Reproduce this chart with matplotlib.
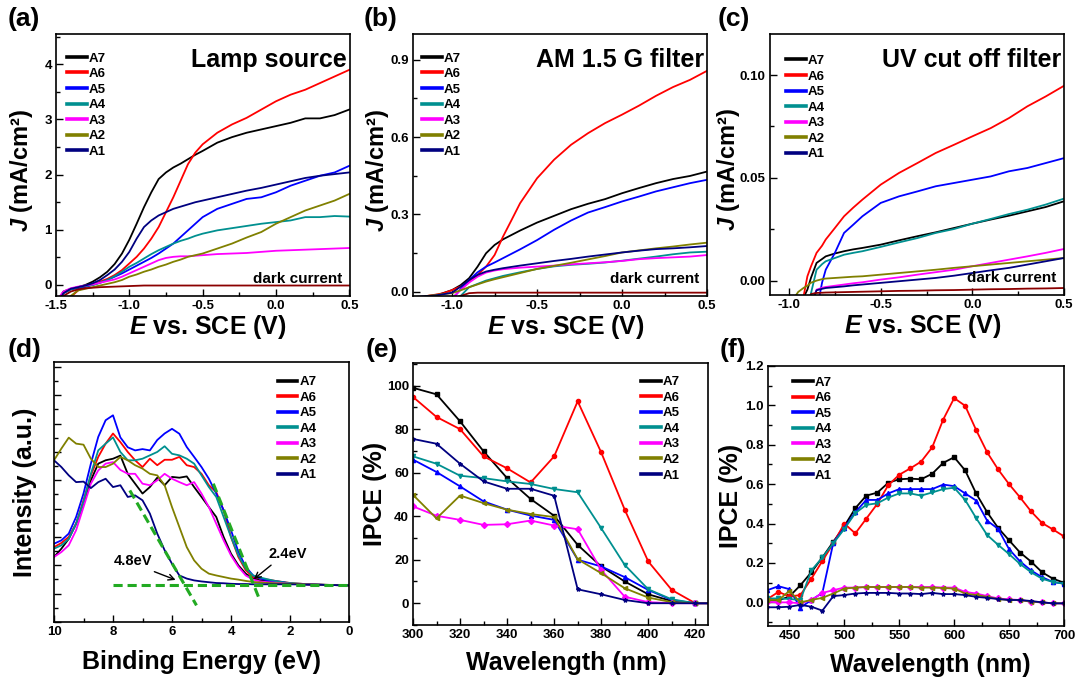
import matplotlib
matplotlib.use('Agg')
import matplotlib.pyplot as plt
from matplotlib.ticker import MultipleLocator, NullFormatter, FormatStrFormatter
from matplotlib.lines import Line2D

plt.rcParams['font.family'] = ['Liberation Sans', 'DejaVu Sans']
plt.rcParams['font.weight'] = 'bold'
plt.rcParams['axes.labelweight'] = 'bold'
plt.rcParams['axes.unicode_minus'] = False
plt.rcParams['mathtext.fontset'] = 'custom'
plt.rcParams['mathtext.it'] = 'Liberation Sans:italic:bold'
plt.rcParams['mathtext.rm'] = 'Liberation Sans:bold'

names = ['A7', 'A6', 'A5', 'A4', 'A3', 'A2', 'A1']
colors = ['#000000', '#ff0000', '#0000ff', '#009090', '#ff00ff', '#808000', '#000080']
markers = ['s', 'o', '^', 'v', 'D', '<', '*']
dark_color = '#8b0000'

# ---- (a) lamp source, J (mA/cm2) vs E (V)
va = [-1.5, -1.45, -1.4, -1.35, -1.3, -1.25, -1.2, -1.15, -1.1, -1.05, -1.0, -0.95, -0.9, -0.85, -0.8,
      -0.75, -0.7, -0.65, -0.6, -0.55, -0.5, -0.4, -0.3, -0.2, -0.1, 0.0, 0.1, 0.2, 0.3, 0.4, 0.5]
ja_A7 = [-0.35, -0.12, -0.07, -0.04, 0.0, 0.06, 0.14, 0.24, 0.38, 0.57, 0.82, 1.11, 1.41, 1.68, 1.92,
         2.04, 2.13, 2.2, 2.28, 2.36, 2.43, 2.58, 2.68, 2.76, 2.82, 2.88, 2.94, 3.02, 3.02, 3.08, 3.18]
ja_A6 = [-0.6, -0.45, -0.22, -0.1, -0.04, 0.01, 0.06, 0.11, 0.18, 0.27, 0.39, 0.51, 0.66, 0.84, 1.05,
         1.32, 1.59, 1.89, 2.19, 2.40, 2.55, 2.76, 2.91, 3.03, 3.18, 3.33, 3.45, 3.54, 3.66, 3.78, 3.90]
ja_A5 = [-0.4, -0.15, -0.08, -0.06, -0.03, 0.0, 0.04, 0.09, 0.15, 0.21, 0.28, 0.35, 0.42, 0.49, 0.57,
         0.66, 0.75, 0.87, 0.99, 1.11, 1.23, 1.38, 1.47, 1.56, 1.59, 1.68, 1.80, 1.89, 1.98, 2.04, 2.16]
ja_A4 = [-0.4, -0.15, -0.08, -0.04, -0.02, 0.0, 0.04, 0.09, 0.16, 0.24, 0.33, 0.40, 0.48, 0.56, 0.63,
         0.69, 0.75, 0.80, 0.84, 0.89, 0.93, 0.99, 1.03, 1.07, 1.11, 1.14, 1.17, 1.23, 1.23, 1.25, 1.24]
ja_A3 = [-0.3, -0.12, -0.06, -0.03, -0.01, 0.01, 0.04, 0.07, 0.10, 0.15, 0.21, 0.27, 0.33, 0.39, 0.45,
         0.49, 0.51, 0.52, 0.52, 0.53, 0.54, 0.56, 0.57, 0.58, 0.60, 0.62, 0.63, 0.64, 0.65, 0.66, 0.67]
ja_A2 = [-0.5, -0.35, -0.2, -0.1, -0.07, -0.04, -0.01, 0.02, 0.05, 0.09, 0.15, 0.19, 0.24, 0.28, 0.33,
         0.37, 0.42, 0.46, 0.51, 0.54, 0.57, 0.66, 0.75, 0.86, 0.96, 1.11, 1.23, 1.35, 1.44, 1.53, 1.65]
ja_A1 = [-0.4, -0.15, -0.07, -0.04, -0.01, 0.03, 0.09, 0.18, 0.28, 0.42, 0.60, 0.84, 1.05, 1.17, 1.26,
         1.32, 1.38, 1.42, 1.46, 1.50, 1.53, 1.59, 1.65, 1.71, 1.76, 1.82, 1.88, 1.94, 1.98, 2.01, 2.04]
ja_dark = [-0.35, -0.2, -0.12, -0.08, -0.06, -0.05, -0.04, -0.035, -0.03, -0.025, -0.02, -0.015, -0.01,
           -0.01, -0.01, -0.01, -0.01, -0.01, -0.01, -0.01, -0.01, -0.01, -0.01, -0.01, -0.01, -0.01,
           -0.01, -0.01, -0.01, -0.01, -0.01]

# ---- (b) AM 1.5 G filter
vb = [-1.2, -1.15, -1.1, -1.05, -1.0, -0.95, -0.9, -0.85, -0.8, -0.75, -0.7, -0.65, -0.6, -0.5,
      -0.4, -0.3, -0.2, -0.1, 0.0, 0.1, 0.2, 0.3, 0.4, 0.5]
jb_A7 = [-0.03, -0.02, -0.017, -0.005, 0.006, 0.025, 0.052, 0.097, 0.149, 0.181, 0.203, 0.22, 0.237,
         0.268, 0.294, 0.32, 0.341, 0.359, 0.382, 0.402, 0.421, 0.437, 0.449, 0.466]
jb_A6 = [-0.03, -0.017, -0.012, -0.006, 0.006, 0.02, 0.039, 0.065, 0.097, 0.142, 0.214, 0.278, 0.343,
         0.44, 0.512, 0.57, 0.615, 0.654, 0.687, 0.722, 0.76, 0.794, 0.822, 0.857]
jb_A5 = [-0.05, -0.05, -0.05, -0.04, -0.03, 0.009, 0.045, 0.075, 0.097, 0.113, 0.13, 0.147, 0.164,
         0.2, 0.24, 0.276, 0.307, 0.328, 0.35, 0.369, 0.389, 0.405, 0.421, 0.434]
jb_A4 = [-0.03, -0.03, -0.03, -0.03, -0.03, -0.017, 0.017, 0.03, 0.043, 0.052, 0.061, 0.068, 0.075,
         0.088, 0.098, 0.104, 0.108, 0.113, 0.12, 0.128, 0.136, 0.145, 0.152, 0.155]
jb_A3 = [-0.03, -0.03, -0.03, -0.03, -0.025, 0.006, 0.035, 0.058, 0.074, 0.082, 0.087, 0.09, 0.093,
         0.097, 0.101, 0.106, 0.11, 0.114, 0.119, 0.126, 0.13, 0.133, 0.136, 0.142]
jb_A2 = [-0.03, -0.017, -0.013, -0.009, -0.006, 0.005, 0.017, 0.028, 0.039, 0.048, 0.056, 0.064, 0.072,
         0.088, 0.1, 0.112, 0.125, 0.138, 0.152, 0.16, 0.168, 0.175, 0.183, 0.19]
jb_A1 = [-0.02, -0.017, -0.015, -0.01, -0.004, 0.019, 0.045, 0.065, 0.078, 0.085, 0.091, 0.096, 0.101,
         0.11, 0.119, 0.127, 0.136, 0.144, 0.152, 0.159, 0.165, 0.168, 0.172, 0.177]
jb_dark = [-0.03, -0.03, -0.03, -0.03, -0.03, -0.017, -0.006, -0.004, -0.004, -0.004, -0.004, -0.004,
           -0.004, -0.004, -0.004, -0.004, -0.004, -0.004, -0.004, -0.004, -0.004, -0.004, -0.004, -0.004]

# ---- (c) UV cut off filter
vc = [-1.0, -0.95, -0.92, -0.9, -0.88, -0.85, -0.82, -0.8, -0.75, -0.7, -0.65, -0.6, -0.5, -0.4,
      -0.3, -0.2, -0.1, 0.0, 0.1, 0.2, 0.3, 0.4, 0.5]
jc_A7 = [-0.03, -0.02, -0.008, -0.0044, 0.0015, 0.0086, 0.0105, 0.0118, 0.0132, 0.0143, 0.0152, 0.0159,
         0.0175, 0.0196, 0.0216, 0.0235, 0.0256, 0.0277, 0.0297, 0.0316, 0.0337, 0.0358, 0.0386]
jc_A6 = [-0.03, -0.02, -0.0073, 0.0021, 0.007, 0.0135, 0.017, 0.02, 0.0256, 0.0313, 0.0355, 0.0394,
         0.0467, 0.0524, 0.0572, 0.0621, 0.0661, 0.0702, 0.0742, 0.0791, 0.0848, 0.0896, 0.0948]
jc_A5 = [-0.03, -0.03, -0.03, -0.03, -0.025, -0.015, -0.001, 0.0053, 0.0135, 0.0232, 0.0272, 0.0313,
         0.0378, 0.041, 0.0434, 0.0459, 0.0475, 0.0491, 0.0507, 0.0532, 0.0548, 0.0572, 0.0596]
jc_A4 = [-0.03, -0.03, -0.025, -0.015, -0.006, 0.0053, 0.008, 0.0094, 0.011, 0.0126, 0.0135, 0.0143,
         0.0164, 0.0186, 0.0207, 0.0232, 0.0251, 0.0277, 0.03, 0.0324, 0.0345, 0.037, 0.0399]
jc_A3 = [-0.03, -0.03, -0.03, -0.03, -0.012, -0.0044, -0.0035, -0.0031, -0.0025, -0.0019, -0.0013,
         -0.0008, 0.0005, 0.0016, 0.0029, 0.0041, 0.0053, 0.007, 0.0086, 0.0102, 0.0118, 0.0135, 0.0154]
jc_A2 = [-0.012, -0.0055, -0.0035, -0.0025, -0.001, 0.0, 0.0007, 0.001, 0.0013, 0.0016, 0.0019, 0.0021,
         0.0029, 0.0037, 0.0045, 0.0053, 0.0062, 0.007, 0.0078, 0.0086, 0.0094, 0.0102, 0.011]
jc_A1 = [-0.03, -0.03, -0.03, -0.03, -0.012, -0.0047, -0.004, -0.0036, -0.0032, -0.0028, -0.0023,
         -0.0019, -0.0011, -0.0003, 0.0005, 0.0013, 0.0024, 0.0037, 0.005, 0.0062, 0.0078, 0.0094, 0.011]
jc_dark = [-0.02, -0.02, -0.02, -0.012, -0.0065, -0.006, -0.0059, -0.0058, -0.0057, -0.0056, -0.0055,
           -0.0054, -0.0052, -0.005, -0.0049, -0.0047, -0.0046, -0.0044, -0.0042, -0.0041, -0.0039,
           -0.0038, -0.0036]

# ---- (d) valence band spectra, intensity (a.u.)
ed = [10, 9.75, 9.5, 9.25, 9.0, 8.75, 8.5, 8.25, 8.0, 7.75, 7.5, 7.25, 7.0, 6.75, 6.5, 6.25, 6.0, 5.75,
      5.5, 5.25, 5.0, 4.75, 4.5, 4.25, 4.0, 3.75, 3.5, 3.25, 3.0, 2.75, 2.5, 2.25, 2.0, 1.5, 1.0, 0.5, 0.0]
id_A7 = [25.0, 28.2, 32.0, 37.8, 45.5, 54.5, 60.9, 62.2, 62.8, 64.0, 57.0, 53.2, 49.4, 51.9, 55.5, 52.6,
         55.8, 55.5, 56.0, 51.9, 48.1, 44.2, 40.4, 32.7, 26.3, 21.8, 18.6, 16.7, 16.0, 15.7, 15.4, 15.0,
         14.7, 14.5, 14.3, 14.2, 14.1]
id_A6 = [28.8, 30.4, 32.7, 37.8, 46.8, 56.4, 63.5, 68.6, 72.5, 69.2, 65.4, 62.2, 59.6, 62.8, 60.3, 62.4,
         62.4, 63.5, 60.3, 59.6, 57.0, 52.6, 50.0, 42.9, 32.7, 25.0, 19.9, 17.3, 16.7, 16.3, 15.8, 15.4,
         15.0, 14.6, 14.4, 14.2, 14.1]
id_A5 = [30.1, 31.4, 34.0, 40.4, 49.4, 60.9, 71.2, 77.6, 79.5, 71.0, 67.2, 66.0, 66.5, 66.0, 70.0, 72.5,
         74.3, 72.4, 67.3, 63.5, 59.6, 55.1, 49.4, 43.0, 35.3, 27.0, 21.2, 17.9, 16.7, 16.0, 15.6, 15.4,
         14.7, 14.5, 14.3, 14.2, 14.1]
id_A4 = [28.2, 29.5, 32.0, 37.8, 46.2, 57.0, 66.0, 68.6, 71.0, 65.4, 62.2, 62.2, 62.8, 64.1, 65.4, 67.6,
         64.7, 64.1, 62.8, 60.9, 56.4, 51.9, 48.1, 40.4, 32.7, 25.6, 20.5, 17.9, 17.1, 16.4, 15.8, 15.3,
         15.0, 14.6, 14.4, 14.2, 14.1]
id_A3 = [25.0, 26.9, 29.5, 35.3, 44.2, 53.2, 58.3, 60.9, 61.5, 58.5, 57.0, 57.0, 53.2, 52.6, 54.5, 57.0,
         55.1, 53.8, 52.6, 53.8, 49.4, 44.2, 37.8, 31.4, 25.6, 21.2, 17.9, 16.3, 15.6, 15.3, 15.1, 14.9,
         14.7, 14.5, 14.3, 14.2, 14.1]
id_A2 = [62.2, 66.7, 70.9, 68.6, 68.2, 62.8, 59.6, 59.6, 60.9, 63.5, 62.2, 60.3, 59.0, 57.0, 56.4, 52.6,
         44.2, 36.5, 28.8, 23.7, 20.5, 18.6, 17.9, 17.3, 16.7, 16.3, 15.8, 15.4, 15.2, 15.0, 14.9, 14.8,
         14.7, 14.5, 14.3, 14.2, 14.1]
id_A1 = [62.2, 59.6, 56.4, 53.8, 54.0, 51.5, 53.8, 55.1, 51.9, 52.6, 48.1, 48.7, 46.8, 41.7, 34.0, 27.6,
         22.4, 17.9, 16.7, 16.0, 15.6, 15.3, 15.0, 14.9, 14.7, 14.6, 14.6, 14.5, 14.5, 14.5, 14.5, 14.5,
         14.5, 14.4, 14.3, 14.2, 14.1]
fit_base_e = [8.0, 0.0]
fit_base_i = [14.1, 14.1]
fit_a1_e = [7.43, 5.17]
fit_a1_i = [50.6, 6.4]
fit_a6_e = [4.60, 3.02]
fit_a6_i = [53.2, 8.3]

# ---- (e) IPCE 300-420 nm
we = [300, 310, 320, 330, 340, 350, 360, 370, 380, 390, 400, 410, 420, 430]
pe_A7 = [99.0, 96.0, 83.6, 69.8, 57.5, 47.9, 40.2, 26.8, 16.9, 10.0, 4.1, 1.0, 0.0, 0.0]
pe_A6 = [94.8, 85.6, 80.0, 67.5, 62.0, 55.5, 67.5, 92.8, 69.3, 43.0, 19.2, 6.1, 0.0, 0.0]
pe_A5 = [66.0, 60.3, 53.7, 46.8, 43.0, 40.3, 38.3, 20.0, 16.9, 12.0, 6.1, 1.5, 0.0, 0.0]
pe_A4 = [67.5, 64.1, 58.6, 57.5, 56.0, 54.8, 52.5, 51.0, 34.5, 17.6, 6.4, 1.8, 0.0, 0.0]
pe_A3 = [44.5, 40.2, 38.3, 36.0, 36.3, 38.0, 35.7, 34.0, 15.3, 3.0, 0.5, 0.0, 0.0, 0.0]
pe_A2 = [49.8, 39.0, 49.5, 46.0, 43.0, 41.0, 39.6, 20.2, 13.8, 6.9, 2.6, 0.5, 0.0, 0.0]
pe_A1 = [75.5, 73.3, 64.1, 56.0, 52.6, 52.6, 49.4, 6.4, 4.1, 1.5, 0.0, 0.0, 0.0, 0.0]

# ---- (f) IPCE 430-700 nm
wf = [430, 440, 450, 460, 470, 480, 490, 500, 510, 520, 530, 540, 550, 560, 570, 580, 590, 600,
      610, 620, 630, 640, 650, 660, 670, 680, 690, 700]
pf_A7 = [0.01, 0.01, 0.03, 0.087, 0.153, 0.228, 0.308, 0.387, 0.478, 0.542, 0.557, 0.607, 0.625, 0.628,
         0.625, 0.653, 0.708, 0.737, 0.67, 0.553, 0.458, 0.378, 0.315, 0.253, 0.207, 0.153, 0.12, 0.10]
pf_A6 = [0.017, 0.053, 0.03, 0.037, 0.12, 0.21, 0.30, 0.40, 0.35, 0.425, 0.50, 0.595, 0.648, 0.68,
         0.715, 0.787, 0.928, 1.037, 0.998, 0.875, 0.762, 0.675, 0.60, 0.533, 0.462, 0.403, 0.37, 0.335]
pf_A5 = [0.062, 0.082, 0.067, -0.027, 0.012, 0.048, 0.303, 0.378, 0.458, 0.52, 0.52, 0.553, 0.575, 0.575,
         0.575, 0.575, 0.598, 0.59, 0.553, 0.517, 0.415, 0.373, 0.27, 0.208, 0.162, 0.128, 0.103, 0.095]
pf_A4 = [0.02, 0.02, 0.017, 0.012, 0.162, 0.228, 0.30, 0.373, 0.453, 0.495, 0.503, 0.532, 0.553, 0.553,
         0.542, 0.558, 0.575, 0.582, 0.52, 0.428, 0.342, 0.292, 0.245, 0.195, 0.153, 0.12, 0.103, 0.095]
pf_A3 = [0.003, 0.0, 0.0, -0.005, 0.012, 0.048, 0.062, 0.075, 0.075, 0.078, 0.078, 0.078, 0.078, 0.078,
         0.078, 0.078, 0.075, 0.075, 0.053, 0.045, 0.032, 0.02, 0.015, 0.012, 0.003, 0.0, -0.005, -0.005]
pf_A2 = [0.012, 0.012, 0.058, 0.0, 0.012, 0.023, 0.045, 0.07, 0.075, 0.078, 0.078, 0.078, 0.078, 0.078,
         0.075, 0.075, 0.073, 0.07, 0.045, 0.037, 0.028, 0.017, 0.012, 0.012, 0.003, 0.0, -0.005, -0.005]
pf_A1 = [-0.025, -0.025, -0.022, -0.013, -0.022, -0.042, 0.032, 0.037, 0.045, 0.048, 0.048, 0.048, 0.045,
         0.045, 0.042, 0.048, 0.042, 0.042, 0.037, 0.028, 0.023, 0.017, 0.012, 0.012, 0.007, 0.0,
         -0.005, -0.005]

W, H = 1076, 682
fig = plt.figure(figsize=(W / 100, H / 100), dpi=100)


def add_ax(l, t, r, b):
    return fig.add_axes([l / W, 1 - b / H, (r - l) / W, (b - t) / H])


def style(ax, xmaj, ymaj, fmt_y=None):
    ax.xaxis.set_major_locator(MultipleLocator(xmaj))
    ax.xaxis.set_minor_locator(MultipleLocator(xmaj / 2))
    ax.yaxis.set_major_locator(MultipleLocator(ymaj))
    ax.yaxis.set_minor_locator(MultipleLocator(ymaj / 2))
    ax.tick_params(which='both', direction='in', labelsize=9.5, width=1, pad=3)
    ax.tick_params(which='major', length=5)
    ax.tick_params(which='minor', length=3)
    if fmt_y:
        ax.yaxis.set_major_formatter(FormatStrFormatter(fmt_y))
    for s in ax.spines.values():
        s.set_linewidth(1.2)
    for lab in ax.get_xticklabels() + ax.get_yticklabels():
        lab.set_fontweight('bold')


def labels(ax, xl, yl, xpos, ypos, ysize=18):
    ax.set_xlabel(xl, fontsize=18)
    ax.set_ylabel(yl, fontsize=ysize)
    ax.xaxis.set_label_coords(*xpos)
    ax.yaxis.set_label_coords(*ypos)
    ax.xaxis.label.set_verticalalignment('center')
    ax.yaxis.label.set_verticalalignment('center')


def legend(ax, loc, anchor):
    handles = [Line2D([], [], color=c, lw=2.6) for c in colors]
    ax.legend(handles, names, loc=loc, bbox_to_anchor=anchor, frameon=False,
              prop={'weight': 'bold', 'size': 9.5}, handlelength=1.5, handletextpad=0.15,
              labelspacing=0.25, borderpad=0, borderaxespad=0)


def jv_panel(ax, v, series, dark, title):
    for j, c in zip(series, colors):
        ax.plot(v, j, color=c, lw=1.3)
    ax.plot(v, dark, color=dark_color, lw=1.3)
    ax.text(0.99, 0.9, title, transform=ax.transAxes, ha='right', va='center', fontsize=18)
    ax.text(0.975, 0.065, 'dark current', transform=ax.transAxes, ha='right', va='center', fontsize=11)


jv_x = r'$E$ vs. SCE (V)'
jv_y = r'$J$ (mA/cm²)'

# (a)
ax = add_ax(56, 34, 350, 296)
jv_panel(ax, va, [ja_A7, ja_A6, ja_A5, ja_A4, ja_A3, ja_A2, ja_A1], ja_dark, 'Lamp source')
ax.set_xlim(-1.5, 0.505)
ax.set_ylim(-0.2, 4.55)
style(ax, 0.5, 1)
ax.xaxis.set_major_formatter(FormatStrFormatter('%.1f'))
labels(ax, jv_x, jv_y, (0.517, -0.118), (-0.118, 0.48), 17)
legend(ax, 'upper left', (0.037, 0.93))

# (b)
ax = add_ax(413, 34, 707, 296)
jv_panel(ax, vb, [jb_A7, jb_A6, jb_A5, jb_A4, jb_A3, jb_A2, jb_A1], jb_dark, 'AM 1.5 G filter')
ax.set_xlim(-1.23, 0.5)
ax.set_ylim(-0.017, 1.0)
style(ax, 0.5, 0.3, '%.1f')
ax.xaxis.set_major_formatter(FormatStrFormatter('%.1f'))
labels(ax, jv_x, jv_y, (0.52, -0.118), (-0.122, 0.48), 17)
legend(ax, 'upper left', (0.03, 0.93))

# (c)
ax = add_ax(770, 34, 1064, 295)
jv_panel(ax, vc, [jc_A7, jc_A6, jc_A5, jc_A4, jc_A3, jc_A2, jc_A1], jc_dark, 'UV cut off filter')
ax.set_xlim(-1.104, 0.5)
ax.set_ylim(-0.007, 0.12)
style(ax, 0.5, 0.05, '%.2f')
ax.xaxis.set_major_formatter(FormatStrFormatter('%.1f'))
labels(ax, jv_x, jv_y, (0.52, -0.118), (-0.142, 0.48), 17)
legend(ax, 'upper left', (0.054, 0.92))

# (d)
ax = add_ax(54, 362, 349, 622)
for i, c in zip([id_A7, id_A6, id_A5, id_A4, id_A3, id_A2, id_A1], colors):
    ax.plot(ed, i, color=c, lw=1.3)
for xs, ys in [(fit_base_e, fit_base_i), (fit_a1_e, fit_a1_i), (fit_a6_e, fit_a6_i)]:
    ax.plot(xs, ys, color='#22aa22', lw=2.2, ls=(0, (3, 1.6)))
ax.annotate('4.8eV', xy=(5.79, 15.8), xytext=(7.32, 23.5), ha='center', va='center', fontsize=10.5,
            arrowprops=dict(arrowstyle='->', lw=1, color='black', relpos=(0.8, 0.0)))
ax.annotate('2.4eV', xy=(3.30, 15.8), xytext=(2.06, 26.3), ha='center', va='center', fontsize=10.5,
            arrowprops=dict(arrowstyle='->', lw=1, color='black', relpos=(0.2, 0.0)))
ax.set_xlim(10, 0)
ax.set_ylim(0, 100)
style(ax, 2, 10.9)
ax.yaxis.set_major_formatter(NullFormatter())
labels(ax, 'Binding Energy (eV)', 'Intensity (a.u.)', (0.50, -0.154), (-0.098, 0.5))
legend(ax, 'upper right', (0.89, 0.946))

# (e)
ax = add_ax(413, 363, 708, 625)
for p, c, m in zip([pe_A7, pe_A6, pe_A5, pe_A4, pe_A3, pe_A2, pe_A1], colors, markers):
    ax.plot(we, p, color=c, lw=1.3, marker=m, ms=3)
ax.set_xlim(300, 425.4)
ax.set_ylim(-10, 110.4)
style(ax, 20, 20)
labels(ax, 'Wavelength (nm)', 'IPCE (%)', (0.52, -0.145), (-0.129, 0.5))
legend(ax, 'upper right', (0.905, 0.95))

# (f)
ax = add_ax(768, 366, 1064, 626)
for p, c, m in zip([pf_A7, pf_A6, pf_A5, pf_A4, pf_A3, pf_A2, pf_A1], colors, markers):
    ax.plot(wf, p, color=c, lw=1.3, marker=m, ms=3)
ax.set_xlim(430.5, 700)
ax.set_ylim(-0.12, 1.2)
style(ax, 50, 0.2, '%.1f')
labels(ax, 'Wavelength (nm)', 'IPCE (%)', (0.55, -0.15), (-0.125, 0.5))
legend(ax, 'upper left', (0.084, 0.96))

for lab, x, y in [('(a)', 8, 7), ('(b)', 364, 7), ('(c)', 718, 7),
                  ('(d)', 8, 338), ('(e)', 366, 338), ('(f)', 720, 338)]:
    fig.text(x / W, 1 - y / H, lab, fontsize=19, fontweight='bold', va='top', ha='left')

fig.savefig('out.png', dpi=100)
